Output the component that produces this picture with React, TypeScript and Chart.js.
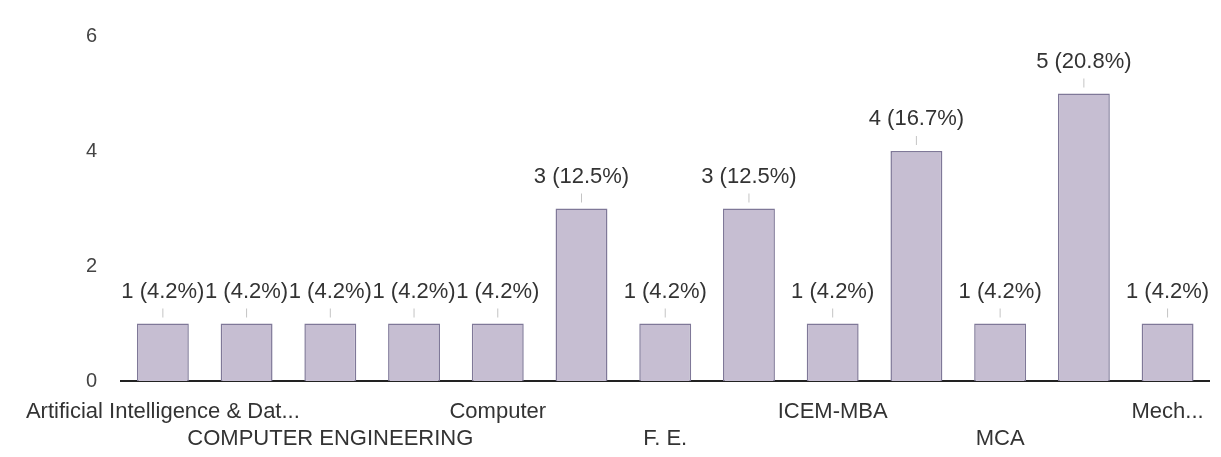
import React, { useEffect, useRef } from "react";
import { Chart, registerables } from "chart.js";

Chart.register(...registerables);

const categories = [
  "Artificial Intelligence & Data Science",
  "Automation & Robotics",
  "COMPUTER ENGINEERING",
  "Civil",
  "Computer",
  "E&TC",
  "F. E.",
  "First Year",
  "ICEM-MBA",
  "IT",
  "MCA",
  "ME",
  "Mechanical",
];

const counts = [1, 1, 1, 1, 1, 3, 1, 3, 1, 4, 1, 5, 1];

// Tick labels as shown; row 0 = first line, row 1 = second line
const tickLabels = [
  "Artificial Intelligence & Dat...",
  "",
  "COMPUTER ENGINEERING",
  "",
  "Computer",
  "",
  "F. E.",
  "",
  "ICEM-MBA",
  "",
  "MCA",
  "",
  "Mech...",
];
const tickRows = [0, 0, 1, 0, 0, 0, 1, 0, 0, 0, 1, 0, 0];

const yTicks = [0, 2, 4, 6];

const FONT = "'Liberation Sans', Arial, sans-serif";

const valueLabelPlugin = {
  id: "valueLabels",
  afterDatasetsDraw(chart: any) {
    const { ctx } = chart;
    const meta = chart.getDatasetMeta(0);
    const data = chart.data.datasets[0].data as number[];
    const total = data.reduce((a, b) => a + b, 0);
    ctx.save();
    meta.data.forEach((bar: any, i: number) => {
      const v = data[i];
      const pct = ((v / total) * 100).toFixed(1);
      const text = `${v} (${pct}%)`;
      ctx.strokeStyle = "#c4c4c4";
      ctx.lineWidth = 1;
      ctx.beginPath();
      ctx.moveTo(bar.x, bar.y - 15);
      ctx.lineTo(bar.x, bar.y - 6);
      ctx.stroke();
      ctx.fillStyle = "#333333";
      ctx.font = `22px ${FONT}`;
      ctx.textAlign = "center";
      ctx.textBaseline = "middle";
      ctx.fillText(text, bar.x, bar.y - 32);
    });
    ctx.restore();
  },
};

export default function App() {
  const canvasRef = useRef<HTMLCanvasElement | null>(null);

  useEffect(() => {
    document.body.style.margin = "0";
    document.body.style.background = "#ffffff";
    const canvas = canvasRef.current;
    if (!canvas) return;
    const chart = new Chart(canvas, {
      type: "bar",
      data: {
        labels: categories,
        datasets: [
          {
            data: counts,
            backgroundColor: "#c6bed2",
            borderColor: "#7f7898",
            borderWidth: 1.5,
            barPercentage: 0.62,
            categoryPercentage: 1,
          },
        ],
      },
      options: {
        animation: false,
        responsive: false,
        maintainAspectRatio: false,
        layout: { padding: { top: 27, right: 9, left: 0, bottom: 0 } },
        plugins: {
          legend: { display: false },
          tooltip: { enabled: false },
        },
        scales: {
          x: {
            grid: { display: false, drawTicks: false },
            border: { display: true, color: "#222222", width: 2 },
            ticks: {
              autoSkip: false,
              maxRotation: 0,
              minRotation: 0,
              padding: 17,
              color: "#333333",
              font: { family: FONT, size: 22, lineHeight: "27px" },
              callback: (_v: any, i: number) =>
                tickRows[i] === 1 ? ["", tickLabels[i]] : tickLabels[i],
            },
            afterFit: (scale: any) => {
              scale.height = 76;
            },
          },
          y: {
            min: yTicks[0],
            max: yTicks[yTicks.length - 1],
            grid: { display: false, drawTicks: false },
            border: { display: false },
            ticks: {
              stepSize: 2,
              padding: 24,
              color: "#444444",
              font: { family: FONT, size: 20 },
            },
            afterFit: (scale: any) => {
              scale.width = 121;
            },
          },
        },
      },
      plugins: [valueLabelPlugin],
    });
    return () => chart.destroy();
  }, []);

  return (
    <div style={{ width: 1221, height: 457 }}>
      <canvas ref={canvasRef} width={1221} height={457} style={{ display: "block" }} />
    </div>
  );
}
